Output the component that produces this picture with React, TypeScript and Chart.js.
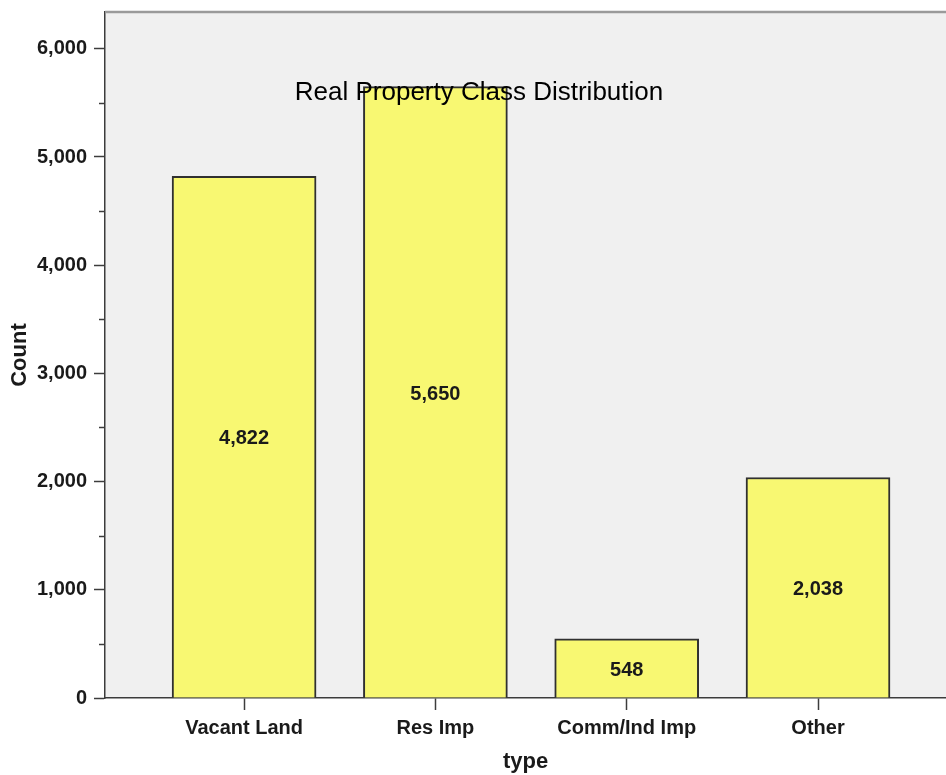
import React, { useEffect, useRef } from 'react';
import { Chart, registerables } from 'chart.js';

Chart.register(...registerables);

// Frequency table of property classes
const categories = ['Vacant Land', 'Res Imp', 'Comm/Ind Imp', 'Other'];
const counts = [4822, 5650, 548, 2038];
const yMajorTicks = [0, 1000, 2000, 3000, 4000, 5000, 6000];
const yMinorTicks = [500, 1500, 2500, 3500, 4500, 5500];
const chartTitle = 'Real Property Class Distribution';
const xTitle = 'type';
const yTitle = 'Count';

const FONT = '"Liberation Sans", Arial, Helvetica, sans-serif';
const TEXT = '#1a1a1a';
const AXIS = '#3c3c3c';
const fmt = (v: number) => Math.round(v).toLocaleString('en-US');

const decorations = {
  id: 'decorations',
  beforeDraw(chart: any) {
    const { ctx, chartArea: a } = chart;
    ctx.save();
    ctx.fillStyle = '#ffffff';
    ctx.fillRect(0, 0, chart.width, chart.height);
    ctx.fillStyle = '#f0f0f0';
    ctx.fillRect(a.left, a.top, a.right - a.left, a.bottom - a.top);
    ctx.restore();
  },
  afterDatasetsDraw(chart: any) {
    const { ctx, chartArea: a } = chart;
    const y = chart.scales.y;
    ctx.save();
    // frame line along the top of the plot
    ctx.strokeStyle = '#9a9a9a';
    ctx.lineWidth = 2.5;
    ctx.beginPath();
    ctx.moveTo(a.left, a.top);
    ctx.lineTo(a.right, a.top);
    ctx.stroke();

    // minor ticks on the count axis
    ctx.strokeStyle = AXIS;
    ctx.lineWidth = 1.5;
    yMinorTicks.forEach((v) => {
      const py = Math.round(y.getPixelForValue(v)) + 0.5;
      ctx.beginPath();
      ctx.moveTo(a.left - 6, py);
      ctx.lineTo(a.left, py);
      ctx.stroke();
    });

    // count labels in the middle of each bar
    const meta = chart.getDatasetMeta(0);
    ctx.fillStyle = TEXT;
    ctx.font = `bold 20px ${FONT}`;
    ctx.textAlign = 'center';
    ctx.textBaseline = 'middle';
    meta.data.forEach((bar: any, i: number) => {
      const mid = (bar.y + bar.base) / 2;
      ctx.fillText(fmt(counts[i]), bar.x, mid + 2);
    });

    // chart title, drawn over the bars
    ctx.fillStyle = '#000000';
    ctx.font = `26px ${FONT}`;
    ctx.fillText(chartTitle, a.left + 374, a.top + 81);
    ctx.restore();
  },
};

export default function App() {
  const canvasRef = useRef<HTMLCanvasElement | null>(null);

  useEffect(() => {
    const canvas = canvasRef.current;
    if (!canvas) return;
    const chart = new Chart(canvas, {
      type: 'bar',
      data: {
        datasets: [
          {
            label: yTitle,
            data: counts.map((v, i) => ({ x: i, y: v })),
            backgroundColor: '#f8f872',
            borderColor: '#303030',
            borderWidth: 2,
            barThickness: 144,
          },
        ],
      },
      options: {
        responsive: false,
        animation: false,
        events: [],
        layout: { padding: { top: 12, right: 0, left: 0, bottom: 0 } },
        plugins: {
          legend: { display: false },
          tooltip: { enabled: false },
          title: { display: false },
        },
        scales: {
          x: {
            type: 'linear',
            min: -0.727,
            max: 3.669,
            offset: false,
            afterBuildTicks: (scale: any) => {
              scale.ticks = categories.map((_, i) => ({ value: i }));
            },
            afterFit: (scale: any) => {
              scale.height = 77;
              scale.paddingLeft = 0;
              scale.paddingRight = 0;
            },
            grid: {
              offset: false,
              drawOnChartArea: false,
              drawTicks: true,
              tickLength: 12,
              tickWidth: 1.5,
              tickColor: AXIS,
            },
            border: { display: true, color: AXIS, width: 1.5 },
            ticks: {
              padding: 6,
              color: TEXT,
              font: { family: FONT, size: 20, weight: 'bold' },
              maxRotation: 0,
              autoSkip: false,
              callback: (v: any) => categories[v as number] ?? '',
            },
            title: {
              display: true,
              text: xTitle,
              color: TEXT,
              font: { family: FONT, size: 22, weight: 'bold' },
              padding: { top: 0, bottom: 0 },
            },
          },
          y: {
            min: 0,
            max: 6340,
            afterBuildTicks: (scale: any) => {
              scale.ticks = yMajorTicks.map((v) => ({ value: v }));
            },
            afterFit: (scale: any) => {
              scale.width = 105;
              scale.paddingTop = 0;
              scale.paddingBottom = 0;
            },
            grid: {
              drawOnChartArea: false,
              drawTicks: true,
              tickLength: 11,
              tickWidth: 1.5,
              tickColor: AXIS,
            },
            border: { display: true, color: AXIS, width: 1.5 },
            ticks: {
              padding: 7,
              color: TEXT,
              autoSkip: false,
              font: { family: FONT, size: 20, weight: 'bold' },
              callback: (v: any) => fmt(Number(v)),
            },
            title: {
              display: true,
              text: yTitle,
              color: TEXT,
              font: { family: FONT, size: 22, weight: 'bold' },
              padding: { top: 7, bottom: 0 },
            },
          },
        },
      } as any,
      plugins: [decorations],
    });
    return () => chart.destroy();
  }, []);

  return (
    <div style={{ position: 'absolute', left: 0, top: 0, width: 946, height: 775, background: '#fff' }}>
      <canvas ref={canvasRef} width={946} height={775} style={{ display: 'block' }} />
    </div>
  );
}
